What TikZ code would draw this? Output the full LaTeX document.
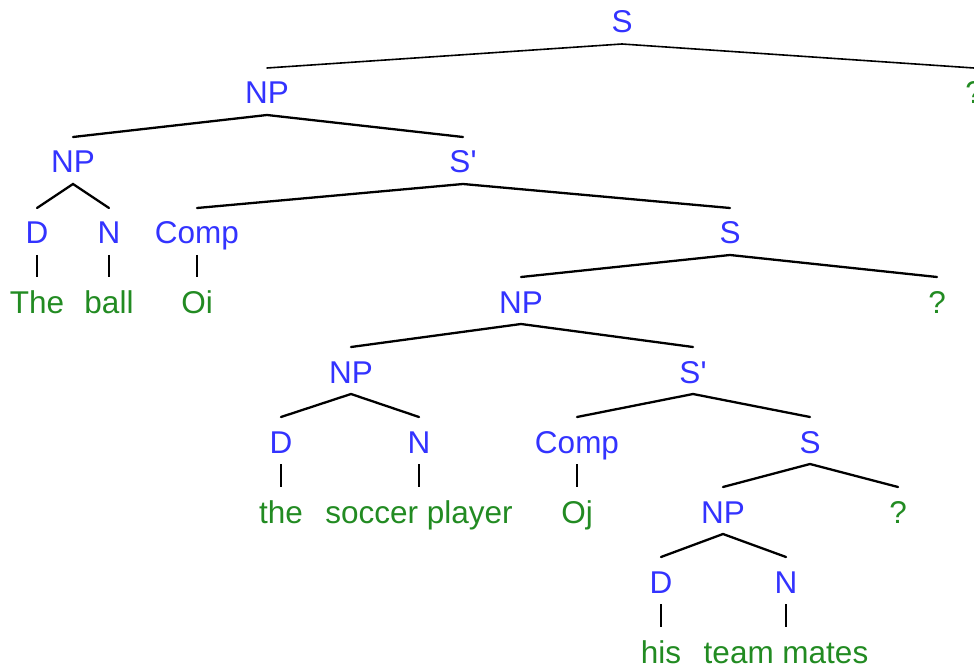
\documentclass[tikz,border=0pt]{standalone}
\usepackage{fontspec}
\setmainfont{Liberation Sans}
\definecolor{catblue}{RGB}{51,51,255}
\definecolor{wordgreen}{RGB}{34,139,34}
\begin{document}
\begin{tikzpicture}[x=1pt,y=-1pt,
  lab/.style={inner sep=0pt, outer sep=0pt, text height=36pt, text depth=11pt, anchor=base,
    font=\fontsize{31.5}{36}\selectfont},
  cat/.style={lab, text=catblue},
  word/.style={lab, text=wordgreen},
  branch/.style={line width=2.3pt, line cap=round},
  thinbranch/.style={line width=1.6pt, line cap=round},
  leafline/.style={line width=1.4pt}]
\useasboundingbox (0,0) rectangle (974,668);
% nodes (x, center y + 11 = baseline)
\node[cat]  (S0)    at (622,33)  {S};
\node[cat]  (NPa)   at (267,104) {NP};
\node[word] (Qa)    at (974,104) {?};
\node[cat]  (NPb)   at (73,173)  {NP};
\node[cat]  (SPa)   at (463,173) {S\textquotesingle};
\node[cat]  (Da)    at (37,244)  {D};
\node[cat]  (Na)    at (109,244) {N};
\node[cat]  (Compa) at (197,244) {Comp};
\node[cat]  (Sa)    at (730,244) {S};
\node[word] (The)   at (37,313)  {The};
\node[word] (ball)  at (109,313) {ball};
\node[word] (Oi)    at (197,313) {Oi};
\node[cat]  (NPc)   at (521,313) {NP};
\node[word] (Qb)    at (937,313) {?};
\node[cat]  (NPd)   at (351,383) {NP};
\node[cat]  (SPb)   at (693,383) {S\textquotesingle};
\node[cat]  (Db)    at (281,453) {D};
\node[cat]  (Nb)    at (419,453) {N};
\node[cat]  (Compb) at (577,453) {Comp};
\node[cat]  (Sb)    at (810,453) {S};
\node[word] (the)   at (281,523) {the};
\node[word] (soccer) at (419,523) {soccer player};
\node[word] (Oj)    at (577,523) {Oj};
\node[cat]  (NPe)   at (723,523) {NP};
\node[word] (Qc)    at (898,523) {?};
\node[cat]  (Dc)    at (661,593) {D};
\node[cat]  (Nc)    at (786,593) {N};
\node[word] (his)   at (661,663) {his};
\node[word] (team)  at (786,663) {team mates};
% branches
\draw[thinbranch] (NPa.north) -- (S0.south) -- (Qa.north);
\draw[branch] (NPb.north) -- (NPa.south) -- (SPa.north);
\draw[branch] (Da.north) -- (NPb.south) -- (Na.north);
\draw[branch] (Compa.north) -- (SPa.south) -- (Sa.north);
\draw[branch] (NPc.north) -- (Sa.south) -- (Qb.north);
\draw[branch] (NPd.north) -- (NPc.south) -- (SPb.north);
\draw[branch] (Db.north) -- (NPd.south) -- (Nb.north);
\draw[branch] (Compb.north) -- (SPb.south) -- (Sb.north);
\draw[branch] (NPe.north) -- (Sb.south) -- (Qc.north);
\draw[branch] (Dc.north) -- (NPe.south) -- (Nc.north);
% leaf lines
\draw[leafline] (Da.south) -- (The.north);
\draw[leafline] (Na.south) -- (ball.north);
\draw[leafline] (Compa.south) -- (Oi.north);
\draw[leafline] (Db.south) -- (the.north);
\draw[leafline] (Nb.south) -- (soccer.north);
\draw[leafline] (Compb.south) -- (Oj.north);
\draw[leafline] (Dc.south) -- (his.north);
\draw[leafline] (Nc.south) -- (team.north);
\end{tikzpicture}
\end{document}
